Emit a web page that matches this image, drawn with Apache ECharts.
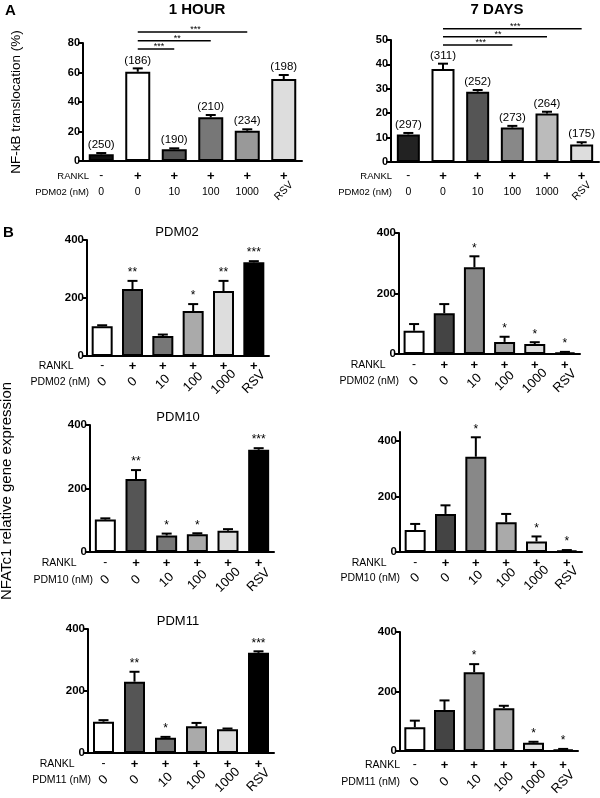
<!DOCTYPE html>
<html><head><meta charset="utf-8">
<script src="https://cdn.jsdelivr.net/npm/echarts@6/dist/echarts.min.js"></script>
<style>html,body{margin:0;padding:0;background:#fff}#c{width:600px;height:798px}</style>
</head><body><div id="c"></div>
<script>
// ---------- data ----------
const categories = ['ctrl', 'rankl', 'c10', 'c100', 'c1000', 'rsv'];
const ranklRow = ['-', '+', '+', '+', '+', '+'];
const concRowA = ['0', '0', '10', '100', '1000', ''];
const rsvRowA = ['', '', '', '', '', 'RSV'];
const concRowB = ['0', '0', '10', '100', '1000', 'RSV'];

const hourMean = [4.5, 60.5, 7.9, 29.6, 20.5, 55.6];
const hourSem = [0.9, 2.3, 0.7, 1.6, 1.0, 2.7];
const hourN = ['(250)', '(186)', '(190)', '(210)', '(234)', '(198)'];
const hourBrackets = [[1, 2, 76], [1, 3, 81.5], [1, 4, 87.5]];
const hourBracketStars = ['***', '**', '***'];

const daysMean = [11.3, 38.1, 28.8, 14.1, 19.9, 7.2];
const daysSem = [0.6, 2.2, 0.7, 0.7, 0.7, 0.9];
const daysN = ['(297)', '(311)', '(252)', '(273)', '(264)', '(175)'];
const daysBrackets = [[1, 3, 48], [1, 4, 51.3], [1, 5, 54.6]];
const daysBracketStars = ['***', '**', '***'];

const pdm02LeftMean = [103, 231, 69, 155, 224, 323];
const pdm02LeftSem = [3, 28, 5, 24, 35, 4];
const pdm02LeftStars = ['', '**', '', '*', '**', '***'];
const pdm02RightMean = [77, 135, 287, 40, 33, 5];
const pdm02RightSem = [22, 30, 36, 17, 6, 2];
const pdm02RightStars = ['', '', '*', '*', '*', '*'];

const pdm10LeftMean = [102, 230, 52, 56, 67, 322];
const pdm10LeftSem = [4, 28, 6, 3, 5, 5];
const pdm10LeftStars = ['', '**', '*', '*', '', '***'];
const pdm10RightMean = [79, 137, 343, 107, 38, 5];
const pdm10RightSem = [22, 31, 70, 30, 18, 2];
const pdm10RightStars = ['', '', '*', '', '*', '*'];

const pdm11LeftMean = [101, 230, 49, 86, 77, 323];
const pdm11LeftSem = [5, 32, 3, 11, 2, 5];
const pdm11LeftStars = ['', '**', '*', '', '', '***'];
const pdm11RightMean = [80, 138, 265, 144, 28, 5];
const pdm11RightSem = [22, 32, 27, 8, 3, 2];
const pdm11RightStars = ['', '', '*', '', '*', '*'];

const yTicksB = [0, 200, 400];

// ---------- styles ----------
const FF = '"Liberation Sans", Arial, Helvetica, sans-serif';
const colorsHour = ['#111111', '#ffffff', '#555555', '#777777', '#999999', '#dddddd'];
const colorsDays = ['#222222', '#ffffff', '#555555', '#888888', '#bbbbbb', '#dddddd'];
const colorsBLeft = ['#ffffff', '#555555', '#777777', '#aaaaaa', '#dddddd', '#000000'];
const colorsBRight = ['#ffffff', '#444444', '#888888', '#aaaaaa', '#dddddd', '#000000'];

const panels = [
  {grid: {left: 83, top: 43, width: 219, height: 118}, max: 80, interval: 20, mean: hourMean, sem: hourSem,
   labels: hourN, labelSize: 11.5, colors: colorsHour, barWidth: 25, kind: 'A', brackets: hourBrackets, bracketStars: hourBracketStars,
   ranklOff: 15, concOff: 31, nameGap: -6, concName: 'PDM02 (nM)', yName: 'NF-kB translocation (%)', tickSize: 11},
  {grid: {left: 391, top: 40, width: 208, height: 122}, max: 50, interval: 10, mean: daysMean, sem: daysSem,
   labels: daysN, labelSize: 11.5, colors: colorsDays, barWidth: 23, kind: 'A', brackets: daysBrackets, bracketStars: daysBracketStars,
   ranklOff: 14, concOff: 30, nameGap: -1, concName: 'PDM02 (nM)', tickSize: 11},
  {grid: {left: 87, top: 240, width: 182, height: 116}, max: 400, interval: 200, mean: pdm02LeftMean, sem: pdm02LeftSem,
   labels: pdm02LeftStars, labelSize: 12, colors: colorsBLeft, barWidth: 21, kind: 'B',
   ranklOff: 10, concOff: 26, nameGap: -3, concName: 'PDM02 (nM)', tickSize: 11.5},
  {grid: {left: 399, top: 233, width: 181, height: 121}, max: 400, interval: 200, mean: pdm02RightMean, sem: pdm02RightSem,
   labels: pdm02RightStars, labelSize: 12, colors: colorsBRight, barWidth: 21, kind: 'B',
   ranklOff: 11, concOff: 27, nameGap: 0, concName: 'PDM02 (nM)', tickSize: 11.5},
  {grid: {left: 90, top: 425, width: 184, height: 127}, max: 400, interval: 200, mean: pdm10LeftMean, sem: pdm10LeftSem,
   labels: pdm10LeftStars, labelSize: 12, colors: colorsBLeft, barWidth: 21, kind: 'B',
   ranklOff: 11, concOff: 28, nameGap: -3, concName: 'PDM10 (nM)', tickSize: 11.5},
  {grid: {left: 400, top: 432, width: 182, height: 120}, max: 432, interval: 200, mean: pdm10RightMean, sem: pdm10RightSem,
   labels: pdm10RightStars, labelSize: 12, colors: colorsBRight, barWidth: 21, kind: 'B',
   ranklOff: 11, concOff: 26, nameGap: 0, concName: 'PDM10 (nM)', tickSize: 11.5, custom: true},
  {grid: {left: 88, top: 629, width: 186, height: 124}, max: 400, interval: 200, mean: pdm11LeftMean, sem: pdm11LeftSem,
   labels: pdm11LeftStars, labelSize: 12, colors: colorsBLeft, barWidth: 21, kind: 'B',
   ranklOff: 11, concOff: 27, nameGap: -3, concName: 'PDM11 (nM)', tickSize: 11.5},
  {grid: {left: 400, top: 632, width: 178, height: 119}, max: 400, interval: 200, mean: pdm11RightMean, sem: pdm11RightSem,
   labels: pdm11RightStars, labelSize: 12, colors: colorsBRight, barWidth: 21, kind: 'B',
   ranklOff: 14, concOff: 31, nameGap: 0, concName: 'PDM11 (nM)', tickSize: 11.5}
];

const grids = [], xAxes = [], yAxes = [], series = [];

function rowAxis(g, data, offset, name, nameGap, labelCfg, nameCfg) {
  return {
    type: 'category', gridIndex: g, position: 'bottom', offset: offset, data: data,
    axisLine: {show: false, onZero: false}, axisTick: {show: false},
    axisLabel: Object.assign({margin: 0, verticalAlign: 'middle', interval: 0, color: '#000', fontFamily: FF}, labelCfg),
    name: name, nameLocation: 'start', nameGap: nameGap,
    nameTextStyle: Object.assign({color: '#000', fontFamily: FF, fontSize: 10.5, align: 'right', verticalAlign: 'middle'}, nameCfg || {})
  };
}

function errRender(labels, fontSize) {
  return function (params, api) {
    const i = api.value(0);
    const p0 = api.coord([i, api.value(1)]);
    const p1 = api.coord([i, api.value(2)]);
    const cw = 5;
    const ch = [
      {type: 'line', shape: {x1: p0[0], y1: p0[1], x2: p1[0], y2: p1[1]}, style: {stroke: '#000', lineWidth: 2}},
      {type: 'line', shape: {x1: p1[0] - cw, y1: p1[1], x2: p1[0] + cw, y2: p1[1]}, style: {stroke: '#000', lineWidth: 2}}
    ];
    const t = labels[params.dataIndex];
    if (t) ch.push({type: 'text', style: {text: t, x: p1[0], y: p1[1] - 2, align: 'center', verticalAlign: 'bottom',
      fontSize: fontSize, fontFamily: FF, fill: '#000'}});
    return {type: 'group', children: ch};
  };
}

function bracketRender(stars) {
  return function (params, api) {
    const a = api.coord([api.value(0), api.value(2)]);
    const b = api.coord([api.value(1), api.value(2)]);
    return {type: 'group', children: [
      {type: 'line', shape: {x1: a[0], y1: a[1], x2: b[0], y2: b[1]}, style: {stroke: '#000', lineWidth: 1.5}},
      {type: 'text', style: {text: stars[params.dataIndex], x: (a[0] + b[0]) / 2 + 3, y: a[1] + 2, align: 'center',
        verticalAlign: 'bottom', fontSize: 9, fontFamily: FF, fill: '#000'}}
    ]};
  };
}

const richSigns = {
  p: {fontSize: 13, fontWeight: 'bold', color: '#000', fontFamily: FF},
  m: {fontSize: 12, color: '#000', fontFamily: FF}
};

panels.forEach(function (p, g) {
  grids.push(Object.assign({outerBoundsMode: 'none', containLabel: false}, p.grid));
  const xBase = xAxes.length;
  xAxes.push({
    type: 'category', gridIndex: g, position: 'bottom', data: categories,
    axisLine: {onZero: false, lineStyle: {color: '#000', width: 2}},
    axisTick: {alignWithLabel: true, length: 3, lineStyle: {color: '#000', width: 1.5}},
    axisLabel: {show: false}
  });
  const isA = p.kind === 'A';
  const nameSize = isA ? 9.5 : 10.5;
  xAxes.push(rowAxis(g, ranklRow, p.ranklOff, 'RANKL', p.nameGap,
    {formatter: function (v) { return v === '+' ? '{p|+}' : '{m|' + v + '}'; }, rich: richSigns},
    {fontSize: nameSize}));
  if (isA) {
    xAxes.push(rowAxis(g, concRowA, p.concOff, p.concName, p.nameGap, {fontSize: 10.5}, {fontSize: nameSize}));
    xAxes.push(rowAxis(g, rsvRowA, p.concOff - 1, '', 0, {fontSize: 10.5, rotate: 45, align: 'center', verticalAlign: 'middle'}));
  } else {
    xAxes.push(rowAxis(g, concRowB, p.concOff, p.concName, p.nameGap,
      {fontSize: 13, rotate: 45, align: 'center', verticalAlign: 'middle'}, {fontSize: nameSize, padding: [0, 0, 0, 0]}));
  }
  const y = {
    type: 'value', gridIndex: g, min: 0, max: p.max, interval: p.interval,
    axisLine: {show: true, onZero: false, lineStyle: {color: '#000', width: 2}},
    axisTick: {show: true, length: 5, lineStyle: {color: '#000', width: 2}},
    splitLine: {show: false},
    axisLabel: {color: '#000', fontWeight: 'bold', fontSize: p.tickSize, fontFamily: FF, margin: 3}
  };
  if (p.custom) {
    y.axisLabel.customValues = yTicksB;
    y.axisTick.customValues = yTicksB;
  }
  if (p.yName) {
    y.name = p.yName; y.nameLocation = 'middle'; y.nameGap = 60;
    y.nameTextStyle = {color: '#000', fontSize: 13.5, fontFamily: FF};
  }
  yAxes.push(y);
  series.push({
    type: 'bar', xAxisIndex: xBase, yAxisIndex: g, barWidth: p.barWidth, silent: true,
    data: p.mean.map(function (v, i) { return {value: v, itemStyle: {color: p.colors[i]}}; }),
    itemStyle: {borderColor: '#000', borderWidth: 2}
  });
  series.push({
    type: 'custom', xAxisIndex: xBase, yAxisIndex: g, silent: true, z: 5, clip: false,
    encode: {x: 0, y: [1, 2]},
    data: p.mean.map(function (v, i) { return [i, v, v + p.sem[i]]; }),
    renderItem: errRender(p.labels, p.labelSize)
  });
  if (p.brackets) {
    series.push({
      type: 'custom', xAxisIndex: xBase, yAxisIndex: g, silent: true, z: 5, clip: false,
      encode: {x: 0, y: 2},
      data: p.brackets,
      renderItem: bracketRender(p.bracketStars)
    });
  }
});

const graphic = [
  {type: 'text', x: 5, y: 3, style: {text: 'A', fontSize: 15, fontWeight: 'bold', fontFamily: FF, fill: '#000'}},
  {type: 'text', x: 197, y: 10, style: {text: '1 HOUR', fontSize: 15, fontWeight: 'bold', fontFamily: FF, fill: '#000', align: 'center', verticalAlign: 'middle'}},
  {type: 'text', x: 497, y: 10, style: {text: '7 DAYS', fontSize: 15, fontWeight: 'bold', fontFamily: FF, fill: '#000', align: 'center', verticalAlign: 'middle'}},
  {type: 'text', x: 3, y: 225, style: {text: 'B', fontSize: 15, fontWeight: 'bold', fontFamily: FF, fill: '#000'}},
  {type: 'text', x: 177, y: 232, style: {text: 'PDM02', fontSize: 13, fontFamily: FF, fill: '#000', align: 'center', verticalAlign: 'middle'}},
  {type: 'text', x: 178, y: 417, style: {text: 'PDM10', fontSize: 13, fontFamily: FF, fill: '#000', align: 'center', verticalAlign: 'middle'}},
  {type: 'text', x: 178, y: 621, style: {text: 'PDM11', fontSize: 13, fontFamily: FF, fill: '#000', align: 'center', verticalAlign: 'middle'}},
  {type: 'text', x: 7, y: 491, rotation: Math.PI / 2, style: {text: 'NFATc1 relative gene expression', fontSize: 15, fontFamily: FF, fill: '#000', align: 'center', verticalAlign: 'middle'}}
];

const chart = echarts.init(document.getElementById('c'), null, {renderer: 'canvas'});
chart.setOption({
  animation: false,
  backgroundColor: '#fff',
  grid: grids, xAxis: xAxes, yAxis: yAxes, series: series, graphic: graphic
});
</script></body></html>
